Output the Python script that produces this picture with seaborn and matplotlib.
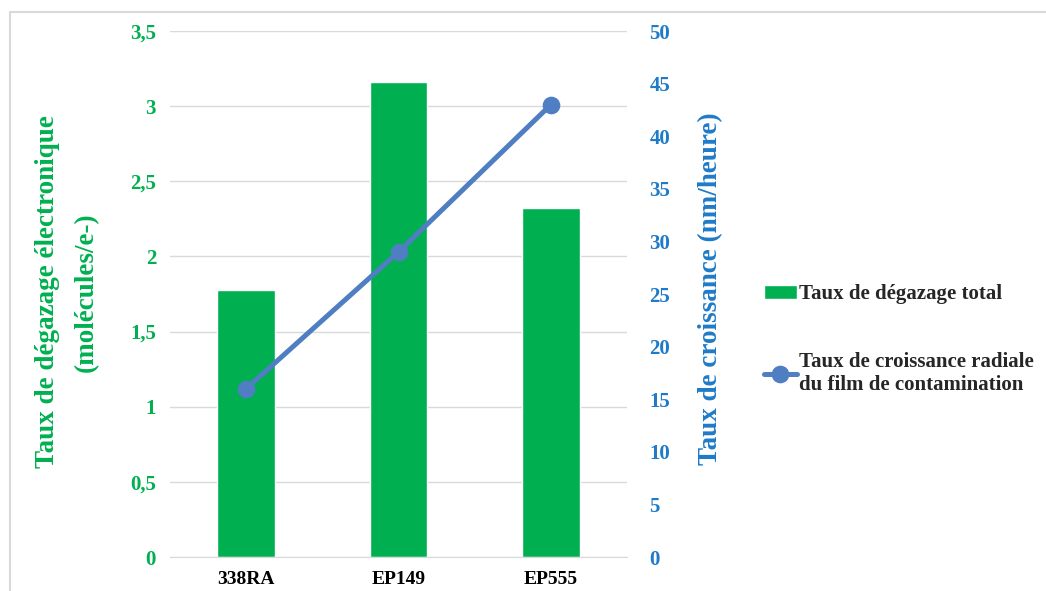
import numpy as np
import pandas as pd
import matplotlib
matplotlib.use("Agg")
import matplotlib.pyplot as plt
import seaborn as sns
from matplotlib.patches import Rectangle

# Données
echantillons = ["338RA", "EP149", "EP555"]
degazage = [1.78, 3.16, 2.32]          # molécules/e-
croissance = [16, 29, 43]              # nm/heure
ticks_gauche = [0, 0.5, 1, 1.5, 2, 2.5, 3, 3.5]
ticks_droite = list(range(0, 55, 5))

VERT = "#00B050"
BLEU_LIGNE = "#4F7EC2"
BLEU_TEXTE = "#1F7BC8"

sns.set_style("white")
plt.rcParams["font.family"] = ["Liberation Serif", "DejaVu Serif"]
plt.rcParams["font.weight"] = "bold"

df = pd.DataFrame({"echantillon": echantillons, "degazage": degazage, "croissance": croissance})

fig = plt.figure(figsize=(10.46, 5.91), dpi=100)
ax = fig.add_axes([0.1625, 0.0575, 0.437, 0.89])

sns.barplot(data=df, x="echantillon", y="degazage", color=VERT, saturation=1,
            width=0.38, ax=ax, label="Taux de dégazage total", zorder=2)
ax.set_ylim(0, 3.5)
ax.set_yticks(ticks_gauche)
etiquettes = [str(int(t)) if t == int(t) else str(t).replace(".", ",") for t in ticks_gauche]
ax.set_yticklabels(etiquettes, color=VERT, fontsize=15, fontweight="bold")
ax.set_xlim(-0.5, 2.5)
ax.set_xlabel("")
ax.set_ylabel("")
ax.tick_params(axis="x", labelsize=14, colors="black", length=0, pad=10)
ax.tick_params(axis="y", length=0, pad=10)
for lab in ax.get_xticklabels():
    lab.set_fontweight("bold")
ax.yaxis.grid(True, color="#D9D9D9", linewidth=1, zorder=0)
ax.set_axisbelow(True)
for s in ax.spines.values():
    s.set_visible(False)
ax.spines["bottom"].set_visible(True)
ax.spines["bottom"].set_color("#D9D9D9")

ax2 = ax.twinx()
sns.pointplot(data=df, x="echantillon", y="croissance", color=BLEU_LIGNE, markers="o",
              markersize=10, linewidth=3.6, ax=ax2,
              label="Taux de croissance radiale\ndu film de contamination")
ax2.set_ylim(0, 50)
ax2.set_yticks(ticks_droite)
ax2.set_yticklabels([str(t) for t in ticks_droite], color=BLEU_TEXTE, fontsize=15, fontweight="bold")
ax2.set_xlim(-0.5, 2.5)
ax2.set_ylabel("")
ax2.tick_params(axis="y", length=0, pad=16)
ax2.grid(False)
for s in ax2.spines.values():
    s.set_visible(False)

h1, l1 = ax.get_legend_handles_labels()
h2, l2 = ax2.get_legend_handles_labels()
for a in (ax, ax2):
    if a.get_legend() is not None:
        a.get_legend().remove()

# titres des axes
fig.text(0.064, 0.506, "Taux de dégazage électronique\n(molécules/e-)", rotation=90,
         ha="center", va="center", multialignment="center", color=VERT,
         fontsize=19.5, fontweight="bold", linespacing=1.75)
fig.text(0.679, 0.512, "Taux de croissance (nm/heure)", rotation=90,
         ha="center", va="center", color=BLEU_TEXTE, fontsize=19.5, fontweight="bold")

fig.legend(h1 + h2, l1 + l2, loc="center left", bbox_to_anchor=(0.712, 0.425),
           frameon=False, prop={"size": 15, "weight": "bold"}, labelspacing=2.3,
           handlelength=1.6, handletextpad=0.1)

# cadre gris autour du graphique
fig.patches.append(Rectangle((0.01, -0.02), 1.0, 1.0, transform=fig.transFigure,
                             fill=False, edgecolor="#D9D9D9", linewidth=1.5))

fig.savefig("out.png", dpi=100)
